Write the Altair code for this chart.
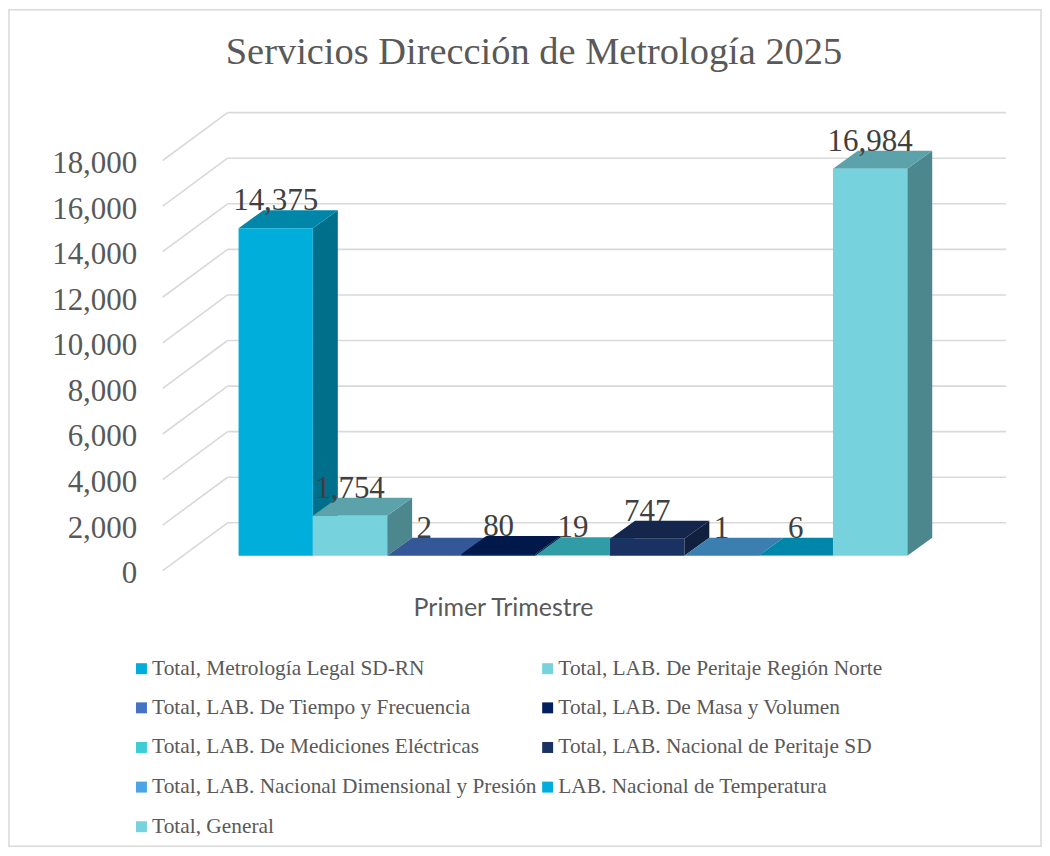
import altair as alt
import pandas as pd

# ---------------- data ----------------
title_text = "Servicios Dirección de Metrología 2025"
x_title = "Primer Trimestre"
series = [
    "Total, Metrología Legal SD-RN",
    "Total, LAB. De Peritaje Región Norte",
    "Total, LAB. De Tiempo y Frecuencia",
    "Total, LAB. De Masa y Volumen",
    "Total, LAB. De Mediciones Eléctricas",
    "Total, LAB. Nacional de Peritaje SD",
    "Total, LAB. Nacional Dimensional y Presión",
    "LAB. Nacional de Temperatura",
    "Total, General",
]
values = [14375, 1754, 2, 80, 19, 747, 1, 6, 16984]
tick_values = [0, 2000, 4000, 6000, 8000, 10000, 12000, 14000, 16000, 18000]

# ---------------- style ----------------
base_colors = ["#00AEDB", "#76D3DD", "#4472C4", "#002060", "#3ECCD7",
               "#1A3263", "#4BA5E5", "#00AEDB", "#76D3DD"]


def shade(hexc, f):
    h = hexc.lstrip("#")
    r, g, b = (int(h[i:i + 2], 16) for i in (0, 2, 4))
    return "#%02X%02X%02X" % (round(r * f), round(g * f), round(b * f))


top_colors = [shade(c, 0.77) for c in base_colors]
side_colors = [shade(c, 0.64) for c in base_colors]

# legend is laid out column by column: reorder so it reads row by row (2 columns)
legend_order = series[0::2] + series[1::2]
legend_colors = base_colors[0::2] + base_colors[1::2]

# oblique 3D projection constants (value units vertically, slot units horizontally)
BAR_Z0 = 657      # lift of the bars' front face above the floor's front edge
BAR_DY = 788      # bar depth, vertical component
BAR_DX = 0.336    # bar depth, horizontal component
WALL_DY = 2102    # back wall depth, vertical component
WALL_DX = 0.873   # back wall depth, horizontal component
X_MIN, X_MAX = -1.021, 10.33
Y_MAX = 20102

W, H = 845, 459
GRID = "#D9D9D9"
TEXT = "#595959"
SERIF = "Liberation Serif"

df = pd.DataFrame({"serie": series, "idx": list(range(len(series))), "valor": values})
grid_df = pd.DataFrame({"t": tick_values})
one = pd.DataFrame({"t": [title_text]})

xs = alt.Scale(domain=[X_MIN, X_MAX], nice=False, zero=False)
ys = alt.Scale(domain=[0, Y_MAX], nice=False, zero=False)

xax = alt.Axis(title=x_title, labels=False, ticks=False, domain=False, grid=False,
               titleFont="Lato", titleFontSize=25, titleColor=TEXT, titleFontWeight="normal",
               titleX=341, titleY=37, titleBaseline="middle", titleAlign="center")
yax = alt.Axis(values=tick_values, format=",.0f", labelFont=SERIF, labelFontSize=31,
               labelColor=TEXT, labelPadding=26, labelOffset=3, ticks=False, domain=False,
               grid=False, title=None)

# border of the chart area
border = alt.Chart(one).mark_rect(fillOpacity=0, stroke=GRID, strokeWidth=1.5).encode(
    x=alt.value(-154), x2=alt.value(880), y=alt.value(-103), y2=alt.value(735)
)

# back-wall gridlines
wall = alt.Chart(grid_df).transform_calculate(
    xb=f"{X_MIN + WALL_DX}", xe=f"{X_MAX}", yb=f"datum.t + {WALL_DY}"
).mark_rule(color=GRID, strokeWidth=1.6).encode(
    x=alt.X("xb:Q", scale=xs, axis=xax),
    x2="xe:Q",
    y=alt.Y("yb:Q", scale=ys, axis=yax),
)

# side-wall (diagonal) gridlines
diag = alt.Chart(grid_df).transform_calculate(
    xa=f"{X_MIN}", xb=f"{X_MIN + WALL_DX}", yb=f"datum.t + {WALL_DY}"
).mark_rule(color=GRID, strokeWidth=1.6).encode(
    x=alt.X("xa:Q", scale=xs, axis=xax),
    x2="xb:Q",
    y=alt.Y("t:Q", scale=ys, axis=yax),
    y2="yb:Q",
)

two_pts = alt.Chart(df).transform_calculate(a="0", b="1").transform_fold(
    ["a", "b"], as_=["k", "d"]
)

# right side faces
side = two_pts.transform_calculate(
    sx=f"datum.idx + 1 + datum.d * {BAR_DX}",
    sy=f"{BAR_Z0} + datum.d * {BAR_DY}",
    sy2=f"datum.valor + {BAR_Z0} + datum.d * {BAR_DY}",
).mark_area(orient="vertical", interpolate="linear").encode(
    x=alt.X("sx:Q", scale=xs, axis=xax),
    y=alt.Y("sy:Q", scale=ys, axis=yax, stack=None),
    y2="sy2:Q",
    color=alt.Color("serie:N", scale=alt.Scale(domain=series, range=side_colors), legend=None),
)

# top faces
top = two_pts.transform_calculate(
    ty=f"datum.valor + {BAR_Z0} + datum.d * {BAR_DY}",
    tx=f"datum.idx + datum.d * {BAR_DX}",
    tx2=f"datum.idx + 1 + datum.d * {BAR_DX}",
).mark_area(orient="horizontal", interpolate="linear").encode(
    y=alt.Y("ty:Q", scale=ys, axis=yax),
    x=alt.X("tx:Q", scale=xs, axis=xax, stack=None),
    x2="tx2:Q",
    color=alt.Color("serie:N", scale=alt.Scale(domain=series, range=top_colors), legend=None),
)

# front faces
front = alt.Chart(df).transform_calculate(
    fx0="datum.idx", fx1="datum.idx + 1",
    fy0=f"{BAR_Z0}", fy1=f"datum.valor + {BAR_Z0}",
).mark_rect().encode(
    x=alt.X("fx0:Q", scale=xs, axis=xax),
    x2="fx1:Q",
    y=alt.Y("fy0:Q", scale=ys, axis=yax),
    y2="fy1:Q",
    color=alt.Color(
        "serie:N",
        scale=alt.Scale(domain=legend_order, range=legend_colors),
        sort=legend_order,
        legend=alt.Legend(
            title=None, orient="none", legendX=-32, legendY=546, columns=2,
            symbolType="square", symbolSize=121, symbolStrokeWidth=0,
            labelFont=SERIF, labelFontSize=21.4, labelColor=TEXT, labelLimit=0,
            labelOffset=0, rowPadding=16.7, columnPadding=0, padding=0,
        ),
    ),
)

# data labels
labels = alt.Chart(df).transform_calculate(
    lx="datum.idx + 0.5", ly=f"datum.valor + {BAR_Z0 + BAR_DY}"
).mark_text(font=SERIF, fontSize=31, color="#404040", baseline="alphabetic", align="center").encode(
    x=alt.X("lx:Q", scale=xs, axis=xax),
    y=alt.Y("ly:Q", scale=ys, axis=yax),
    text=alt.Text("valor:Q", format=","),
)

title = alt.Chart(one).mark_text(font=SERIF, fontSize=38.5, color=TEXT, baseline="alphabetic",
                                 align="center").encode(
    x=alt.value(372), y=alt.value(-49), text="t:N"
)

chart = alt.layer(border, wall, diag, side, top, front, labels, title).resolve_scale(
    color="independent"
).properties(
    width=W, height=H,
    autosize=alt.AutoSizeParams(type="none"),
    padding={"left": 155, "top": 104, "right": 36, "bottom": 277},
    background="white",
).configure_view(stroke=None)

chart.save("out.html", embed_options={"renderer": "svg", "actions": False})
